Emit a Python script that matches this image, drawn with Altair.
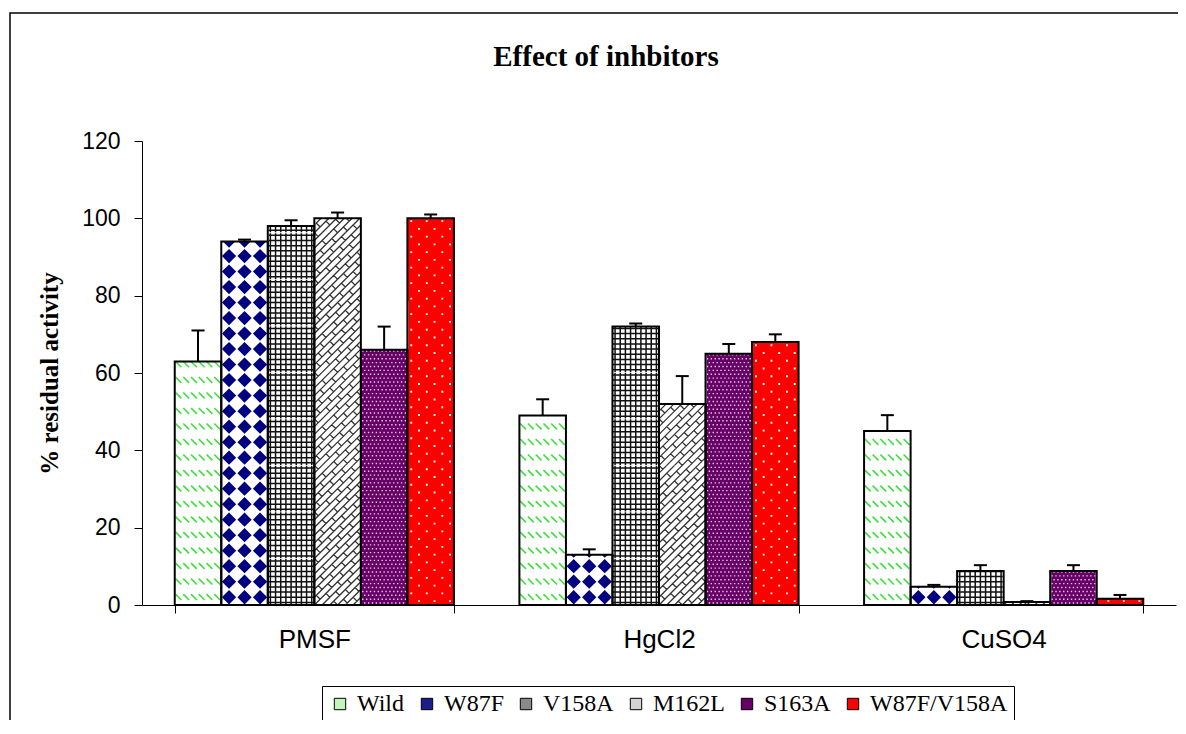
import math
import altair as alt
import pandas as pd

# ---------------- data ----------------
CATEGORIES = ["PMSF", "HgCl2", "CuSO4"]
SERIES = ["Wild", "W87F", "V158A", "M162L", "S163A", "W87F/V158A"]

WILD = [63, 49, 45]
W87F = [94, 13, 4.7]
V158A = [98, 72, 8.8]
M162L = [100, 52, 0.8]
S163A = [66, 65, 8.8]
W87F_V158A = [100, 68, 1.6]

ERR_WILD = [8, 4.2, 4.1]
ERR_W87F = [0.5, 1.4, 0.5]
ERR_V158A = [1.5, 0.8, 1.5]
ERR_M162L = [1.5, 7.2, 0.2]
ERR_S163A = [6, 2.5, 1.5]
ERR_W87F_V158A = [1, 2, 1]

Y_TICKS = [0, 20, 40, 60, 80, 100, 120]

VALUES = [WILD, W87F, V158A, M162L, S163A, W87F_V158A]
ERRORS = [ERR_WILD, ERR_W87F, ERR_V158A, ERR_M162L, ERR_S163A, ERR_W87F_V158A]

# ---------------- layout / style constants ----------------
PLOT_W, PLOT_H = 1034, 464
Y_MAX = 120
PAD_IN, PAD_OUT = 0.19, 0.095
STEP = PLOT_W / (len(CATEGORIES) - PAD_IN + 2 * PAD_OUT)
BAR_W = STEP * (1 - PAD_IN) / len(SERIES)
PPU = PLOT_H / Y_MAX
TILE_U = BAR_W / PPU  # pattern tile height in data units (square tile)

LEGEND_COLORS = ["#c4f2bc", "#1c1c8c", "#8a8a8a", "#d4d4d4", "#660066", "#ff0000"]
BASE_FILL = ["#ffffff", "#ffffff", "#ffffff", "#ffffff", "#660066", "#ff0000"]

bars = pd.DataFrame(
    [
        {"category": c, "series": s, "value": VALUES[k][i], "err": ERRORS[k][i]}
        for i, c in enumerate(CATEGORIES)
        for k, s in enumerate(SERIES)
    ]
)

tile_rows = []
for i, c in enumerate(CATEGORIES):
    for k, s in enumerate(SERIES):
        v = VALUES[k][i]
        n = max(1, math.ceil(v / TILE_U - 1e-9))
        for j in range(n):
            tile_rows.append({"category": c, "series": s, "yc": (j + 0.5) * TILE_U})
tiles = pd.DataFrame(tile_rows)


# ---------------- fill patterns as custom symbol paths ----------------
def fm(v):
    return f"{v / 3.0 - 1.0:.4f}"


def seg(x1, y1, x2, y2):
    return f"M{fm(x1)},{fm(y1)}L{fm(x2)},{fm(y2)}"


def sq(x, y, h):
    return (f"M{fm(x - h)},{fm(y - h)}L{fm(x + h)},{fm(y - h)}"
            f"L{fm(x + h)},{fm(y + h)}L{fm(x - h)},{fm(y + h)}Z")


wild_path = "".join(seg(i + 0.1, 2 * r + 0.6, i + 0.85, 2 * r + 1.35)
                    for r in range(3) for i in range(6))

diamond_path = "".join(
    f"M{fm(2*c+1)},{fm(2*r+0.08)}L{fm(2*c+1.92)},{fm(2*r+1)}L{fm(2*c+1)},{fm(2*r+1.92)}L{fm(2*c+0.08)},{fm(2*r+1)}Z"
    for r in range(3) for c in range(3))

grid_pos = [1 / 3 + k * 2 / 3 for k in range(9)]
grid_path = "".join(seg(p, 0.05, p, 5.95) for p in grid_pos) + "".join(seg(0.05, p, 5.95, p) for p in grid_pos)

brick_parts = []
for k in range(1, 12):
    x1, y1 = max(0, k - 6), min(6, k)
    x2, y2 = min(6, k), max(0, k - 6)
    brick_parts.append(seg(x1, y1, x2, y2))
for k in range(0, 12):
    a = (k * 1.25) % 1.5
    while a <= 6:
        if a + 0.5 <= 6 and k - a >= 0 and k - a + 0.5 <= 6:
            brick_parts.append(seg(a, k - a, a + 0.5, k - a + 0.5))
        a += 1.5
brick_path = "".join(brick_parts)

pdots = []
for j in range(12):
    for i in range(12):
        x = 0.25 + 0.5 * i + (0.25 if j % 2 else 0)
        if x + 0.1 > 6:
            continue
        pdots.append(sq(x, 0.25 + 0.5 * j, 0.09))
purple_path = "".join(pdots)

red_path = "".join(sq(2 * c + 0.5, 2 * r + 0.5, 0.12) + sq(2 * c + 1.5, 2 * r + 1.5, 0.12)
                   for r in range(3) for c in range(3))

PATTERNS = {
    "Wild": dict(shape=wild_path, filled=False, stroke="#3ee03e", strokeWidth=1.6),
    "W87F": dict(shape=diamond_path, filled=True, fill="#000080", strokeWidth=0),
    "V158A": dict(shape=grid_path, filled=False, stroke="#111111", strokeWidth=1.5),
    "M162L": dict(shape=brick_path, filled=False, stroke="#333333", strokeWidth=1.3),
    "S163A": dict(shape=purple_path, filled=True, fill="#e9c9e9", strokeWidth=0),
    "W87F/V158A": dict(shape=red_path, filled=True, fill="#ffffff", strokeWidth=0),
}

# ---------------- shared encodings ----------------
x_scale = alt.Scale(domain=CATEGORIES, paddingInner=PAD_IN, paddingOuter=PAD_OUT)
x_axis = alt.Axis(title=None, labelAngle=0, labelFont="Liberation Sans", labelFontSize=26,
                  labelColor="black", labelPadding=13, tickSize=8, tickBand="extent",
                  tickColor="black", domainColor="black")
X = alt.X("category:N", scale=x_scale, axis=x_axis)
XO = alt.XOffset("series:N", scale=alt.Scale(domain=SERIES, paddingInner=0, paddingOuter=0))
y_scale = alt.Scale(domain=[0, Y_MAX], nice=False)
y_axis = alt.Axis(values=Y_TICKS, title="% residual activity", titleFont="Liberation Serif",
                  titleFontSize=25, titleFontWeight="bold", titleColor="black", titlePadding=19,
                  labelFont="Liberation Sans", labelFontSize=23, labelColor="black",
                  labelPadding=14, tickSize=8, tickColor="black", domainColor="black", grid=False)


def Y(field):
    return alt.Y(field, scale=y_scale, axis=y_axis)


legend = alt.Legend(title=None, orient="none", legendX=180, legendY=545, direction="horizontal",
                    columns=6, symbolType="square", symbolSize=130, symbolStrokeColor="black",
                    symbolStrokeWidth=1, labelFont="Liberation Serif", labelFontSize=24,
                    labelColor="black", labelOffset=5, columnPadding=10, padding=6,
                    strokeColor="black", fillColor="white")

base = alt.Chart(bars)

legend_bars = base.mark_bar(strokeWidth=0).encode(
    x=X, xOffset=XO, y=Y("value:Q"),
    color=alt.Color("series:N", scale=alt.Scale(domain=SERIES, range=LEGEND_COLORS), legend=legend),
)

fill_bars = base.mark_bar(strokeWidth=0).encode(
    x=X, xOffset=XO, y=Y("value:Q"),
    fill=alt.Fill("series:N", scale=alt.Scale(domain=SERIES, range=BASE_FILL), legend=None),
)

tile_layers = []
for s in SERIES:
    p = PATTERNS[s]
    tile_layers.append(
        alt.Chart(tiles)
        .transform_filter(alt.datum.series == s)
        .mark_point(size=BAR_W ** 2, opacity=1, **p)
        .encode(x=X, xOffset=XO, y=Y("yc:Q"))
    )

mask = base.transform_calculate(mtop=f"datum.value + {TILE_U + 0.6}").mark_bar(
    fill="white", strokeWidth=0, width=BAR_W + 2
).encode(x=X, xOffset=XO, y=Y("value:Q"), y2="mtop:Q")

outline = base.mark_bar(fill="transparent", stroke="black", strokeWidth=2).encode(
    x=X, xOffset=XO, y=Y("value:Q")
)

err_rule = base.transform_calculate(etop="datum.value + datum.err").mark_rule(
    color="black", strokeWidth=2
).encode(x=X, xOffset=XO, y=Y("value:Q"), y2="etop:Q")

err_cap = base.transform_calculate(etop="datum.value + datum.err").mark_tick(
    color="black", size=13, thickness=2, opacity=1
).encode(x=X, xOffset=XO, y=Y("etop:Q"))

deco = alt.Chart(pd.DataFrame({"k": [0]}))
frame = deco.mark_rect(fill="transparent", stroke="black", strokeWidth=1.5).encode(
    x=alt.value(-132), x2=alt.value(1200), y=alt.value(-128), y2=alt.value(700)
)
title = deco.mark_text(text="Effect of inhbitors", font="Liberation Serif", fontSize=29,
                       fontWeight="bold", align="center", baseline="alphabetic",
                       color="black").encode(x=alt.value(464), y=alt.value(-75))

chart = (
    alt.layer(legend_bars, fill_bars, *tile_layers, mask, outline, err_rule, err_cap, frame, title)
    .properties(
        width=PLOT_W,
        height=PLOT_H,
        autosize=alt.AutoSizeParams(type="none"),
        padding={"left": 134, "top": 133, "right": 2, "bottom": 115},
        background="white",
    )
    .configure_view(stroke="transparent")
)

chart.save("out.html", embed_options={"renderer": "svg", "actions": False})
